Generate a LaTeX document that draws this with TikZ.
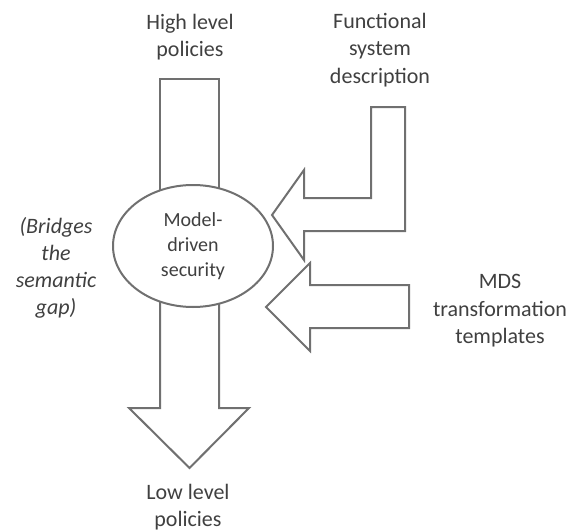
\documentclass[tikz,border=0pt]{standalone}
\usepackage{fontspec}
\setmainfont{Carlito}
\usetikzlibrary{shapes.geometric}
\definecolor{linegray}{RGB}{112,112,112}
\definecolor{textgray}{RGB}{64,64,64}
\begin{document}
\begin{tikzpicture}[x=1pt,y=-1pt,
  blockarrow/.style={draw=linegray,line width=2pt,line join=miter,fill=white},
  label/.style={text=textgray,align=center,font=\fontsize{22}{27.5}\selectfont,inner sep=0pt},
  core/.style={ellipse,draw=linegray,line width=2pt,fill=white,minimum width=160pt,minimum height=122pt,
    text=textgray,align=center,font=\fontsize{20}{25}\selectfont,inner sep=0pt}]
\useasboundingbox (0,0) rectangle (574,530);

% input shaft from the high level policies
\draw[blockarrow] (160,240) -- (160,79) -- (219,79) -- (219,240);
% output arrow down to the low level policies
\draw[blockarrow] (160,250) -- (160,408) -- (129,408) -- (189.5,468) -- (249,408) -- (219,408) -- (219,250);

% bent arrow carrying the functional system description
\draw[blockarrow] (371,107) -- (405,107) -- (405,231) -- (304,231) -- (304,260) -- (272,215)
  -- (304,170) -- (304,198) -- (371,198) -- cycle;
% arrow carrying the MDS transformation templates
\draw[blockarrow] (409,285) -- (409,328) -- (310,328) -- (310,351) -- (266,307)
  -- (310,263) -- (310,285) -- cycle;

\node[core] (mds) at (193,246) {Model-\\driven\\security};

\node[label] (high) at (190,37) {High level\\policies};
\node[label] (func) at (380,50) {Functional\\system\\description};
\node[label] (tmpl) at (500,311) {MDS\\transformation\\templates};
\node[label] (low) at (188,507) {Low level\\policies};
\node[label,font=\fontsize{22}{27}\itshape] (gap) at (56,268) {(Bridges\\the\\semantic\\gap)};
\end{tikzpicture}
\end{document}
